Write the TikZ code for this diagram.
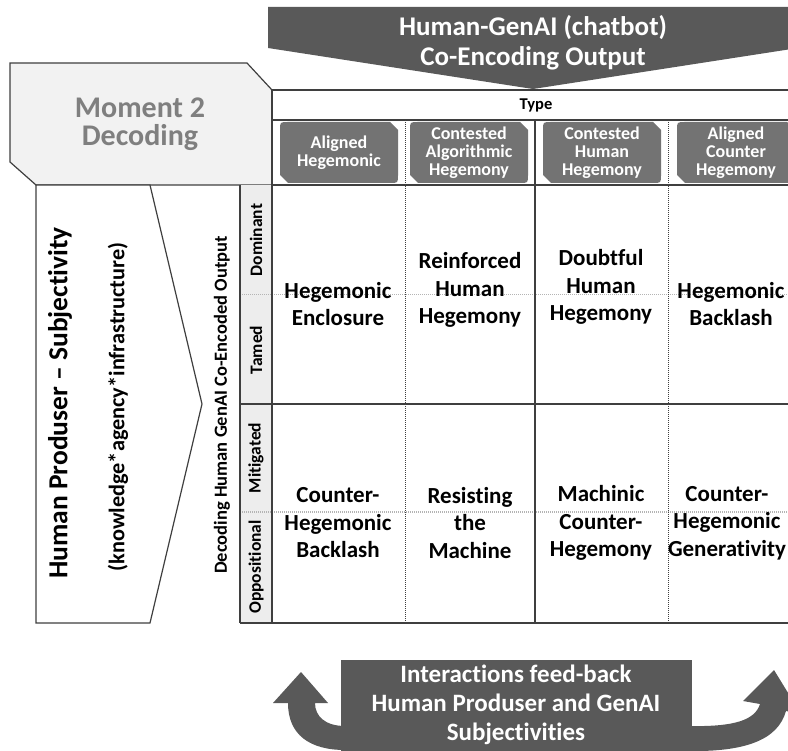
\documentclass[tikz,border=0pt]{standalone}
\usepackage{fontspec}
\setmainfont{Carlito}[Ligatures=NoCommon]
\definecolor{arrowgray}{HTML}{595959}
\definecolor{tabgray}{HTML}{737373}
\definecolor{momentfill}{HTML}{F2F2F2}
\definecolor{momenttext}{HTML}{7F7F7F}
\definecolor{headfill}{HTML}{EDEDED}
\definecolor{gridline}{HTML}{3F3F3F}
\definecolor{dotline}{HTML}{B4B4B4}

\begin{document}
\begin{tikzpicture}[x=1pt,y=-1pt]
\tikzstyle{every node}=[inner sep=0pt, align=center]
\tikzstyle{celltext}=[font=\fontsize{23}{27.5}\selectfont\bfseries]
\tikzstyle{tabtext}=[text=white, font=\fontsize{18}{18}\selectfont\bfseries]
\tikzstyle{rowtext}=[rotate=90, font=\fontsize{17.5}{18}\selectfont\bfseries]
\tikzstyle{whitetext}=[text=white, font=\fontsize{27}{30}\selectfont\bfseries]
\tikzstyle{grid}=[draw=gridline, line width=1.2]
\useasboundingbox (0,0) rectangle (788,751);

% top arrow
\fill[arrowgray] (268,7) -- (798,7) -- (798,48) -- (533,89) -- (268,48) -- cycle;
\node[whitetext] (encoding) at (533,43) {Human-GenAI (chatbot)\\Co-Encoding Output};

% moment box
\filldraw[fill=momentfill, grid] (10,63) -- (247,63) -- (272,90) -- (272,185)
  -- (36,185) -- (10,162) -- cycle;
\node[text=momenttext, font=\fontsize{30}{28}\selectfont\bfseries] (moment) at (140,124)
  {Moment 2\\Decoding};

% subjectivity arrow
\filldraw[fill=white, grid] (36,185) -- (150,185) -- (202,404) -- (150,623) -- (36,623) -- cycle;
\node[rotate=90, font=\fontsize{27.5}{30}\selectfont\bfseries] (produser) at (60,403)
  {Human Produser -- Subjectivity};
\node[rotate=90, font=\fontsize{22.3}{24}\selectfont\bfseries] (knowledge) at (118,407)
  {(knowledge*agency*infrastructure)};
\node[rotate=90, font=\fontsize{18.5}{20}\selectfont\bfseries] (decoding) at (222,405)
  {Decoding Human GenAI Co-Encoded Output};

% table
\fill[headfill] (240,185) rectangle (272,623);
\draw[dotline, densely dotted, line width=1] (240,295) -- (800,295) (240,512) -- (800,512);
\draw[gridline, densely dotted, line width=1] (405,120) -- (405,623) (668,120) -- (668,623);
\draw[grid] (272,90) -- (800,90) (272,120) -- (800,120) (272,185) -- (800,185)
  (240,404) -- (800,404) (240,623) -- (800,623)
  (240,185) -- (240,623) (272,90) -- (272,623) (535,120) -- (535,623);
\node[font=\fontsize{16.5}{16}\selectfont\bfseries] (type) at (536,105) {Type};

\foreach \xa/\nm/\txt in {280/alhe/{Aligned\\Hegemonic},
    410/caheg/{Contested\\Algorithmic\\Hegemony},
    543/chheg/{Contested\\Human\\Hegemony},
    677/acheg/{Aligned\\Counter\\Hegemony}}{
  \fill[tabgray] (\xa,130) .. controls (\xa,122) .. (\xa+8,122) -- (\xa+110,122)
    -- (\xa+118,130) -- (\xa+118,175) .. controls (\xa+118,183) .. (\xa+110,183)
    -- (\xa+8,183) -- (\xa,175) -- cycle;
  \node[tabtext] (\nm) at (\xa+59,153) {\txt};
}

\node[rowtext] (dominant) at (256,240) {Dominant};
\node[rowtext] (tamed) at (256,350) {Tamed};
\node[rowtext] (mitigated) at (256,458) {Mitigated};
\node[rowtext] (oppositional) at (256,567) {Oppositional};

\node[celltext] (enclosure) at (338,304) {Hegemonic\\Enclosure};
\node[celltext] (reinforced) at (470,290) {Reinforced\\Human\\Hegemony};
\node[celltext] (doubtful) at (601,287) {Doubtful\\Human\\Hegemony};
\node[celltext] (backlash) at (731,304) {Hegemonic\\Backlash};
\node[celltext] (counterbacklash) at (338,523) {Counter-\\Hegemonic\\Backlash};
\node[celltext] (resisting) at (470,523) {Resisting\\the\\Machine};
\node[celltext] (machinic) at (601,523) {Machinic\\Counter-\\Hegemony};
\node[celltext] (generativity) at (727,523) {Counter-\\Hegemonic\\Generativity};

% feed-back box and arrows
\fill[arrowgray] (273,703) -- (301,672) -- (328,703) -- (315,703)
  .. controls (315,716) and (325,726) .. (345,726) -- (345,750)
  .. controls (310,750) and (288,735) .. (288,703) -- cycle;
\fill[arrowgray] (688,726) .. controls (735,727) and (755,720) .. (760,704)
  -- (743,701) -- (774,670) -- (801,714) -- (786,711)
  .. controls (778,740) and (745,752) .. (688,751) -- cycle;
\fill[arrowgray] (341,660) rectangle (692,760);
\node[whitetext, font=\fontsize{25}{29}\selectfont\bfseries] (feedback) at (516,705)
  {Interactions feed-back\\Human Produser and GenAI\\Subjectivities};
\end{tikzpicture}
\end{document}
